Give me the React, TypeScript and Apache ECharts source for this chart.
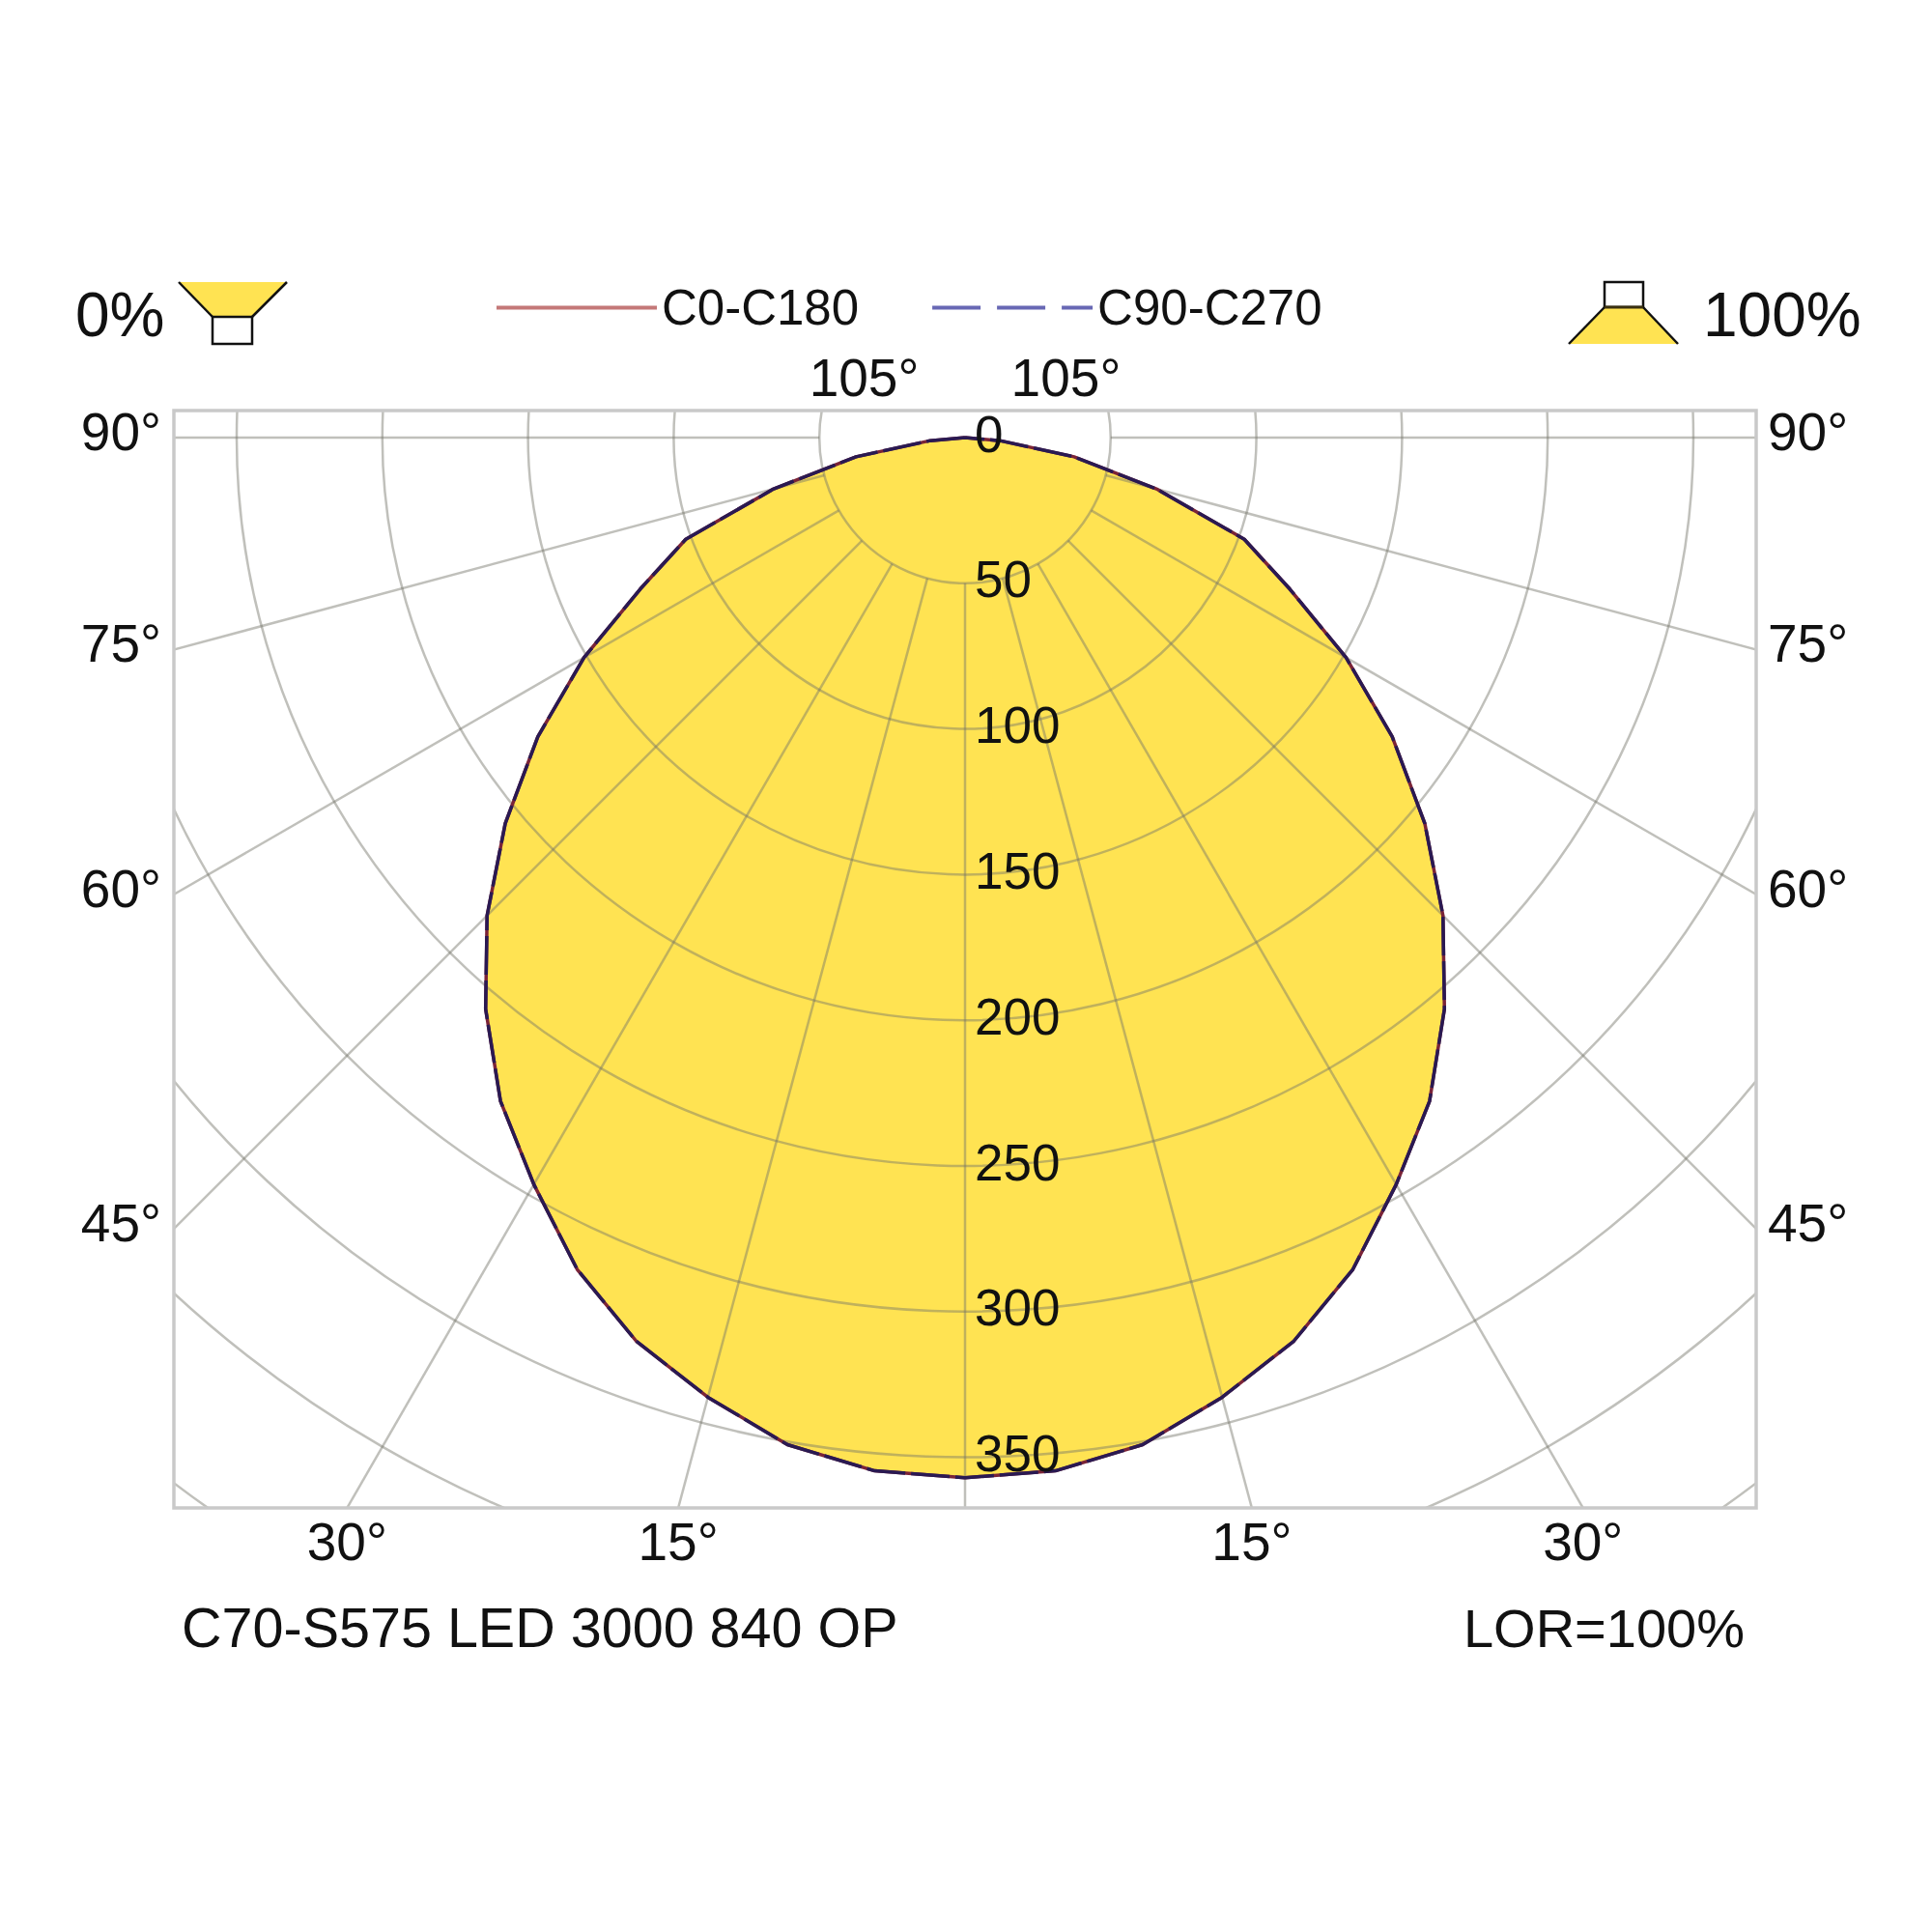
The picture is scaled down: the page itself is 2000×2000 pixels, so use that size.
import React, { useEffect, useRef } from 'react';
import * as echarts from 'echarts';

// ---------- data ----------
const gammaAngles = [0, 5, 10, 15, 20, 25, 30, 35, 40, 45, 50, 55, 60, 65, 70, 75, 80, 85, 90];
const c0c180 = [357, 356, 351, 341, 330, 315, 296, 278, 256, 232, 206, 179, 151, 123, 102, 68, 38, 12, 0];
const c90c270 = [357, 356, 351, 341, 330, 315, 296, 278, 256, 232, 206, 179, 151, 123, 102, 68, 38, 12, 0];
const legendNames = ['C0-C180', 'C90-C270'];
const gridRadii = [50, 100, 150, 200, 250, 300, 350, 400, 450];
const gridAngles = [-105, -90, -75, -60, -45, -30, -15, 0, 15, 30, 45, 60, 75, 90, 105];
const radialTicks = [0, 50, 100, 150, 200, 250, 300, 350];
const angleTicks = [105, 90, 75, 60, 45, 30, 15, -15, -30, -45, -60, -75, -90, -105];
const luminaireLabel = 'C70-S575 LED 3000 840 OP';
const lorLabel = 'LOR=100%';
const downLabel = '0%';
const upLabel = '100%';
const RADIUS_MAX = 460;
const SPOKE_START = 50;

// ---------- layout ----------
const PLOT = { left: 180, top: 425, right: 1818, bottom: 1561 };
const CENTER: [number, number] = [999, 453];
const PX_PER_CD = 3.016;
const FONT = '"Liberation Sans", Arial, Helvetica, sans-serif';
const TEXT = '#111111';
const YELLOW = '#ffe352';
const GRID = 'rgba(115,115,105,0.45)';
const BORDER = '#c9c9c9';

function polarCurve(values: number[]) {
  const left = gammaAngles.map((g, i) => [values[i], g]).reverse();
  const right = gammaAngles.slice(1).map((g, i) => [values[i + 1], -g]);
  return left.concat(right);
}

const clipRect = () => ({
  type: 'rect',
  shape: { x: PLOT.left, y: PLOT.top, width: PLOT.right - PLOT.left, height: PLOT.bottom - PLOT.top },
});

function buildOption(): any {
  return {
    animation: false,
    backgroundColor: '#ffffff',
    polar: { center: CENTER, radius: RADIUS_MAX * PX_PER_CD },
    angleAxis: { type: 'value', min: -180, max: 180, startAngle: 90, clockwise: true, show: false },
    radiusAxis: { type: 'value', min: 0, max: RADIUS_MAX, show: false },
    legend: {
      left: 512,
      top: 293,
      padding: 0,
      itemGap: 74,
      itemWidth: 166,
      itemHeight: 8,
      selectedMode: false,
      textStyle: { fontSize: 51, fontFamily: FONT, color: TEXT },
      data: [
        { name: legendNames[0], lineStyle: { color: '#c47878', width: 4, type: 'solid' }, itemStyle: { opacity: 0 } },
        { name: legendNames[1], lineStyle: { color: '#6868b4', width: 4, type: [50, 17] }, itemStyle: { opacity: 0 } },
      ],
    },
    series: [
      {
        type: 'line',
        name: 'fill',
        coordinateSystem: 'polar',
        data: polarCurve(c0c180),
        symbol: 'none',
        silent: true,
        lineStyle: { width: 0, opacity: 0 },
        areaStyle: { color: YELLOW, opacity: 1 },
        z: 1,
      },
      {
        type: 'custom',
        name: 'rings',
        coordinateSystem: 'polar',
        silent: true,
        z: 3,
        data: gridRadii.map((r) => [r, 0]),
        renderItem: (params: any, api: any) => {
          const c = api.coord([0, 0]);
          const p = api.coord([api.value(0), 0]);
          const r = Math.hypot(p[0] - c[0], p[1] - c[1]);
          return {
            type: 'circle',
            shape: { cx: c[0], cy: c[1], r },
            style: { fill: 'none', stroke: GRID, lineWidth: 2.5 },
            clipPath: clipRect(),
          };
        },
      },
      {
        type: 'custom',
        name: 'spokes',
        coordinateSystem: 'polar',
        silent: true,
        z: 3,
        data: gridAngles.map((a) => [SPOKE_START, a]),
        renderItem: (params: any, api: any) => {
          const a = api.value(1);
          const p0 = api.coord([api.value(0), a]);
          const p1 = api.coord([RADIUS_MAX, a]);
          return {
            type: 'line',
            shape: { x1: p0[0], y1: p0[1], x2: p1[0], y2: p1[1] },
            style: { stroke: GRID, lineWidth: 2.5 },
            clipPath: clipRect(),
          };
        },
      },
      {
        type: 'line',
        name: legendNames[0],
        coordinateSystem: 'polar',
        data: polarCurve(c0c180),
        symbol: 'none',
        color: '#c47878',
        lineStyle: { color: '#7a2438', width: 3.5 },
        z: 4,
      },
      {
        type: 'line',
        name: legendNames[1],
        coordinateSystem: 'polar',
        data: polarCurve(c90c270),
        symbol: 'none',
        color: '#6868b4',
        lineStyle: { color: '#2a1a52', width: 3.5, type: [40, 6] },
        z: 5,
      },
      {
        type: 'custom',
        name: 'radial labels',
        coordinateSystem: 'polar',
        silent: true,
        z: 6,
        data: radialTicks.map((v) => [v, 0]),
        renderItem: (params: any, api: any) => {
          const v = api.value(0);
          const p = api.coord([v, 0]);
          return {
            type: 'text',
            x: p[0] + 10,
            y: p[1] - 4,
            style: {
              text: String(v),
              fill: TEXT,
              fontSize: 53,
              fontFamily: FONT,
              align: 'left',
              verticalAlign: 'middle',
            },
          };
        },
      },
      {
        type: 'custom',
        name: 'angle labels',
        coordinateSystem: 'polar',
        silent: true,
        z: 6,
        data: angleTicks.map((a) => [0, a]),
        renderItem: (params: any, api: any) => {
          const a = api.value(1);
          const c = api.coord([0, a]);
          const p = api.coord([100, a]);
          const dx = p[0] - c[0];
          const dy = p[1] - c[1];
          const eps = 1e-6;
          let t = Infinity;
          let side = '';
          const test = (tt: number, s: string) => {
            if (tt > 0 && tt < t) {
              t = tt;
              side = s;
            }
          };
          if (dx < -eps) test((PLOT.left - c[0]) / dx, 'left');
          if (dx > eps) test((PLOT.right - c[0]) / dx, 'right');
          if (dy > eps) test((PLOT.bottom - c[1]) / dy, 'bottom');
          if (dy < -eps) test((PLOT.top - c[1]) / dy, 'top');
          const x = c[0] + dx * t;
          const y = c[1] + dy * t;
          let tx = x;
          let ty = y;
          let align = 'center';
          if (side === 'left') {
            tx = x - 13;
            ty = y - 6;
            align = 'right';
          } else if (side === 'right') {
            tx = x + 12;
            ty = y - 6;
            align = 'left';
          } else if (side === 'bottom') {
            ty = y + 35;
          } else {
            ty = y - 34;
          }
          return {
            type: 'text',
            x: tx,
            y: ty,
            style: {
              text: Math.abs(a) + '°',
              fill: TEXT,
              fontSize: 55,
              fontFamily: FONT,
              align,
              verticalAlign: 'middle',
            },
          };
        },
      },
    ],
    graphic: [
      {
        type: 'rect',
        z: 10,
        silent: true,
        shape: { x: PLOT.left, y: PLOT.top, width: PLOT.right - PLOT.left, height: PLOT.bottom - PLOT.top },
        style: { fill: 'none', stroke: BORDER, lineWidth: 3.5 },
      },
      // left icon (downward light)
      { type: 'polygon', z: 10, silent: true, shape: { points: [[185, 292], [297, 292], [261, 328], [220, 328]] }, style: { fill: YELLOW } },
      { type: 'polyline', z: 10, silent: true, shape: { points: [[185, 292], [220, 328]] }, style: { stroke: TEXT, lineWidth: 2.5, fill: 'none' } },
      { type: 'polyline', z: 10, silent: true, shape: { points: [[297, 292], [261, 328]] }, style: { stroke: TEXT, lineWidth: 2.5, fill: 'none' } },
      { type: 'rect', z: 10, silent: true, shape: { x: 220, y: 328, width: 41, height: 28 }, style: { fill: '#ffffff', stroke: TEXT, lineWidth: 2.5 } },
      // right icon (upward light)
      { type: 'rect', z: 10, silent: true, shape: { x: 1661, y: 292, width: 40, height: 26 }, style: { fill: '#ffffff', stroke: TEXT, lineWidth: 2.5 } },
      { type: 'polygon', z: 10, silent: true, shape: { points: [[1661, 318], [1701, 318], [1737, 356], [1624, 356]] }, style: { fill: YELLOW } },
      { type: 'polyline', z: 10, silent: true, shape: { points: [[1661, 318], [1624, 356]] }, style: { stroke: TEXT, lineWidth: 2.5, fill: 'none' } },
      { type: 'polyline', z: 10, silent: true, shape: { points: [[1701, 318], [1737, 356]] }, style: { stroke: TEXT, lineWidth: 2.5, fill: 'none' } },
      { type: 'line', z: 10, silent: true, shape: { x1: 1661, y1: 318, x2: 1701, y2: 318 }, style: { stroke: '#3a3010', lineWidth: 3 } },
      {
        type: 'text', z: 10, silent: true, x: 78, y: 326,
        style: { text: downLabel, fill: TEXT, fontSize: 64, fontFamily: FONT, align: 'left', verticalAlign: 'middle' },
      },
      {
        type: 'text', z: 10, silent: true, x: 1763, y: 326,
        style: { text: upLabel, fill: TEXT, fontSize: 64, fontFamily: FONT, align: 'left', verticalAlign: 'middle' },
      },
      {
        type: 'text', z: 10, silent: true, x: 188, y: 1685,
        style: { text: luminaireLabel, fill: TEXT, fontSize: 57.5, fontFamily: FONT, align: 'left', verticalAlign: 'middle' },
      },
      {
        type: 'text', z: 10, silent: true, x: 1806, y: 1685,
        style: { text: lorLabel, fill: TEXT, fontSize: 56, fontFamily: FONT, align: 'right', verticalAlign: 'middle' },
      },
    ],
  };
}

export default function App() {
  const ref = useRef<HTMLDivElement | null>(null);
  useEffect(() => {
    if (!ref.current) return;
    const chart = echarts.init(ref.current, undefined, { renderer: 'svg' });
    chart.setOption(buildOption());
    return () => {
      chart.dispose();
    };
  }, []);
  return (
    <div
      ref={ref}
      style={{ position: 'fixed', left: 0, top: 0, width: 2000, height: 2000, background: '#ffffff' }}
    />
  );
}
